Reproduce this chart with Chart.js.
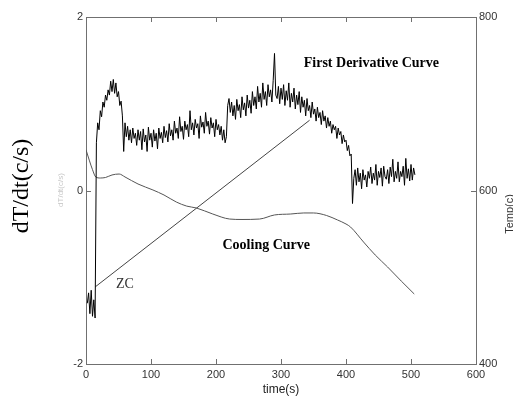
<!DOCTYPE html>
<html>
<head>
<meta charset="utf-8">
<script src="https://cdn.jsdelivr.net/npm/chart.js@4.4.1/dist/chart.umd.min.js"></script>
<style>
html,body{margin:0;padding:0;background:#fff;}
#wrap{width:513px;height:399px;}
</style>
</head>
<body>
<div id="wrap"><canvas id="c" width="513" height="399"></canvas></div>
<script>
// ---- data ----
const xTicks = [0, 100, 200, 300, 400, 500, 600];
const yLeftTicks = [-2, 0, 2];
const yRightTicks = [400, 600, 800];

// First derivative curve, sampled every 2 s starting at t = 2 s
const derivStart = 2;
const derivStep = 2;
const derivValues = [
  -1.30, -1.18, -1.42, -1.15, -1.45, -1.26, -1.47, 0.55, 0.78, 0.70,
  0.92, 0.85, 1.02, 0.96, 1.10, 1.04, 1.16, 1.10, 1.26, 1.14,
  1.28, 1.12, 1.24, 1.08, 1.14, 0.98, 1.03, 0.86, 0.45, 0.78,
  0.62, 0.74, 0.58, 0.70, 0.55, 0.72, 0.60, 0.66, 0.52, 0.70,
  0.58, 0.68, 0.47, 0.71, 0.56, 0.64, 0.45, 0.73, 0.58, 0.66,
  0.50, 0.70, 0.57, 0.66, 0.48, 0.72, 0.60, 0.67, 0.55, 0.74,
  0.61, 0.69, 0.56, 0.77, 0.63, 0.70, 0.58, 0.80, 0.66, 0.72,
  0.60, 0.85, 0.68, 0.74, 0.59, 0.80, 0.70, 0.76, 0.62, 0.92,
  0.70, 0.78, 0.64, 0.82, 0.72, 0.77, 0.60, 0.86, 0.73, 0.79,
  0.66, 0.90, 0.74, 0.80, 0.65, 0.84, 0.72, 0.78, 0.62, 0.82,
  0.70, 0.76, 0.64, 0.74, 0.58, 0.70, 0.55, 0.62, 0.98, 1.06,
  0.90, 1.02, 0.86, 0.98, 0.82, 1.05, 0.92, 0.99, 0.84, 1.08,
  0.93, 1.01, 0.86, 1.10, 0.95, 1.04, 0.89, 1.14, 0.98, 1.08,
  0.94, 1.20, 1.02, 1.12, 0.96, 1.24, 1.05, 1.14, 0.98, 1.22,
  1.08, 1.16, 1.02, 1.27, 1.58, 1.10, 1.06, 1.20, 1.00, 1.18,
  1.05, 1.22, 0.98, 1.15, 1.04, 1.24, 0.96, 1.12, 1.02, 1.18,
  0.94, 1.10, 0.99, 1.14, 0.90, 1.08, 0.96, 1.04, 0.86, 1.06,
  0.92, 0.98, 0.84, 1.02, 0.88, 0.94, 0.80, 0.96, 0.84, 0.90,
  0.76, 0.92, 0.80, 0.86, 0.72, 0.84, 0.74, 0.80, 0.66, 0.76,
  0.70, 0.74, 0.60, 0.72, 0.64, 0.68, 0.54, 0.64, 0.56, 0.58,
  0.46, 0.52, 0.40, 0.42, -0.15, 0.14, 0.24, 0.06, 0.26, 0.10,
  0.20, 0.02, 0.24, 0.12, 0.18, 0.04, 0.22, 0.14, 0.27, 0.08,
  0.20, 0.12, 0.30, 0.06, 0.22, 0.15, 0.26, 0.05, 0.28, 0.16,
  0.13, 0.24, 0.08, 0.27, 0.16, 0.36, 0.10, 0.22, 0.14, 0.33,
  0.10, 0.22, 0.16, 0.28, 0.06, 0.37, 0.14, 0.25, 0.11, 0.30,
  0.12, 0.26, 0.18
];

// Cooling curve (right axis, Temp in c)
const coolTimes = [0, 5, 10, 15, 22, 30, 40, 51, 60, 80, 103, 120, 139, 155, 170, 195, 221, 240, 267, 290, 315, 335, 350, 370, 387, 400, 407, 427, 445, 464, 485, 505];
const coolTemps = [647, 635, 624, 615.6, 614.4, 615, 617.9, 619, 615.6, 607.5, 600.6, 594.8, 586.7, 582, 579.8, 572.9, 567.1, 566.6, 567.1, 571.8, 572.9, 574.1, 574.1, 571.2, 566, 561.4, 557.9, 540.6, 525.6, 511.8, 495.6, 480.7];

// Zero-curve (ZC) straight line (left axis)
const zcTimes = [14.4, 344];
const zcValues = [-1.11, 0.81];

// ---- build datasets ----
const derivPoints = derivValues.map((v, i) => ({ x: derivStart + i * derivStep, y: v }));
const coolPoints = coolTimes.map((t, i) => ({ x: t, y: coolTemps[i] }));
const zcPoints = zcTimes.map((t, i) => ({ x: t, y: zcValues[i] }));

const SERIF = '"Liberation Serif", "Times New Roman", serif';
const SANS = '"Liberation Sans", Arial, sans-serif';
const AXIS_COLOR = '#707070';

const decorPlugin = {
  id: 'decor',
  afterDraw(chart) {
    const ctx = chart.ctx;
    const a = chart.chartArea;
    const xs = chart.scales.x, yl = chart.scales.y, yr = chart.scales.y2;
    ctx.save();
    // box top line
    ctx.strokeStyle = AXIS_COLOR;
    ctx.lineWidth = 1;
    ctx.beginPath();
    ctx.moveTo(a.left, Math.round(a.top) + 0.5);
    ctx.lineTo(a.right, Math.round(a.top) + 0.5);
    ctx.stroke();
    // inside ticks
    ctx.beginPath();
    xTicks.forEach(t => {
      const px = Math.round(xs.getPixelForValue(t)) + 0.5;
      ctx.moveTo(px, a.bottom); ctx.lineTo(px, a.bottom - 5);
      ctx.moveTo(px, a.top); ctx.lineTo(px, a.top + 5);
    });
    yLeftTicks.forEach(v => {
      const py = Math.round(yl.getPixelForValue(v)) + 0.5;
      ctx.moveTo(a.left, py); ctx.lineTo(a.left + 5, py);
    });
    yRightTicks.forEach(v => {
      const py = Math.round(yr.getPixelForValue(v)) + 0.5;
      ctx.moveTo(a.right, py); ctx.lineTo(a.right - 5, py);
    });
    ctx.stroke();

    // axis titles
    ctx.fillStyle = '#000';
    ctx.textAlign = 'center';
    ctx.textBaseline = 'middle';
    ctx.save();
    ctx.translate(22, 186);
    ctx.rotate(-Math.PI / 2);
    ctx.font = '24px ' + SERIF;
    ctx.fillText('dT/dt(c/s)', 0, 0);
    ctx.restore();

    ctx.save();
    ctx.translate(61, 190);
    ctx.rotate(-Math.PI / 2);
    ctx.font = '8px ' + SANS;
    ctx.fillStyle = '#c8c8c8';
    ctx.fillText('dT/dt(c/s)', 0, 0);
    ctx.restore();

    ctx.save();
    ctx.translate(510, 214);
    ctx.rotate(-Math.PI / 2);
    ctx.font = '11px ' + SANS;
    ctx.fillStyle = '#333';
    ctx.fillText('Temp(c)', 0, 0);
    ctx.restore();

    ctx.font = '12px ' + SANS;
    ctx.fillStyle = '#222';
    ctx.fillText('time(s)', (a.left + a.right) / 2, 390);

    // annotations
    ctx.textAlign = 'left';
    ctx.fillStyle = '#000';
    ctx.font = 'bold 14px ' + SERIF;
    ctx.fillText('First Derivative Curve', xs.getPixelForValue(335), yl.getPixelForValue(1.47));
    ctx.fillText('Cooling Curve', xs.getPixelForValue(210), yl.getPixelForValue(-0.63));
    ctx.font = '14px ' + SERIF;
    ctx.fillStyle = '#333';
    ctx.fillText('ZC', xs.getPixelForValue(46), yl.getPixelForValue(-1.08));
    ctx.restore();
  }
};

new Chart(document.getElementById('c'), {
  type: 'line',
  data: {
    datasets: [
      { data: derivPoints, yAxisID: 'y', borderColor: '#000', borderWidth: 1, pointRadius: 0, tension: 0, fill: false },
      { data: coolPoints, yAxisID: 'y2', borderColor: '#555', borderWidth: 1, pointRadius: 0, cubicInterpolationMode: 'monotone', fill: false },
      { data: zcPoints, yAxisID: 'y', borderColor: '#444', borderWidth: 1, pointRadius: 0, tension: 0, fill: false }
    ]
  },
  options: {
    responsive: false,
    animation: false,
    events: [],
    layout: { padding: { top: 17, left: 0, right: 0, bottom: 0 } },
    plugins: { legend: { display: false }, tooltip: { enabled: false }, title: { display: false } },
    scales: {
      x: {
        type: 'linear', min: 0, max: 600,
        afterBuildTicks: s => { s.ticks = xTicks.map(v => ({ value: v })); },
        afterFit: s => { s.height = 35; },
        grid: { display: false, drawTicks: false },
        border: { display: true, color: AXIS_COLOR, width: 1 },
        ticks: { padding: 4, maxRotation: 0, autoSkip: false, color: '#333', font: { family: SANS, size: 11 } }
      },
      y: {
        type: 'linear', position: 'left', min: -2, max: 2,
        afterBuildTicks: s => { s.ticks = yLeftTicks.map(v => ({ value: v })); },
        afterFit: s => { s.width = 86; },
        grid: { display: false, drawTicks: false },
        border: { display: true, color: AXIS_COLOR, width: 1 },
        ticks: { padding: 3, color: '#333', font: { family: SANS, size: 11 } }
      },
      y2: {
        type: 'linear', position: 'right', min: 400, max: 800,
        afterBuildTicks: s => { s.ticks = yRightTicks.map(v => ({ value: v })); },
        afterFit: s => { s.width = 37; },
        grid: { display: false, drawTicks: false },
        border: { display: true, color: AXIS_COLOR, width: 1 },
        ticks: { padding: 3, color: '#333', font: { family: SANS, size: 11 } }
      }
    }
  },
  plugins: [decorPlugin]
});
</script>
</body>
</html>
